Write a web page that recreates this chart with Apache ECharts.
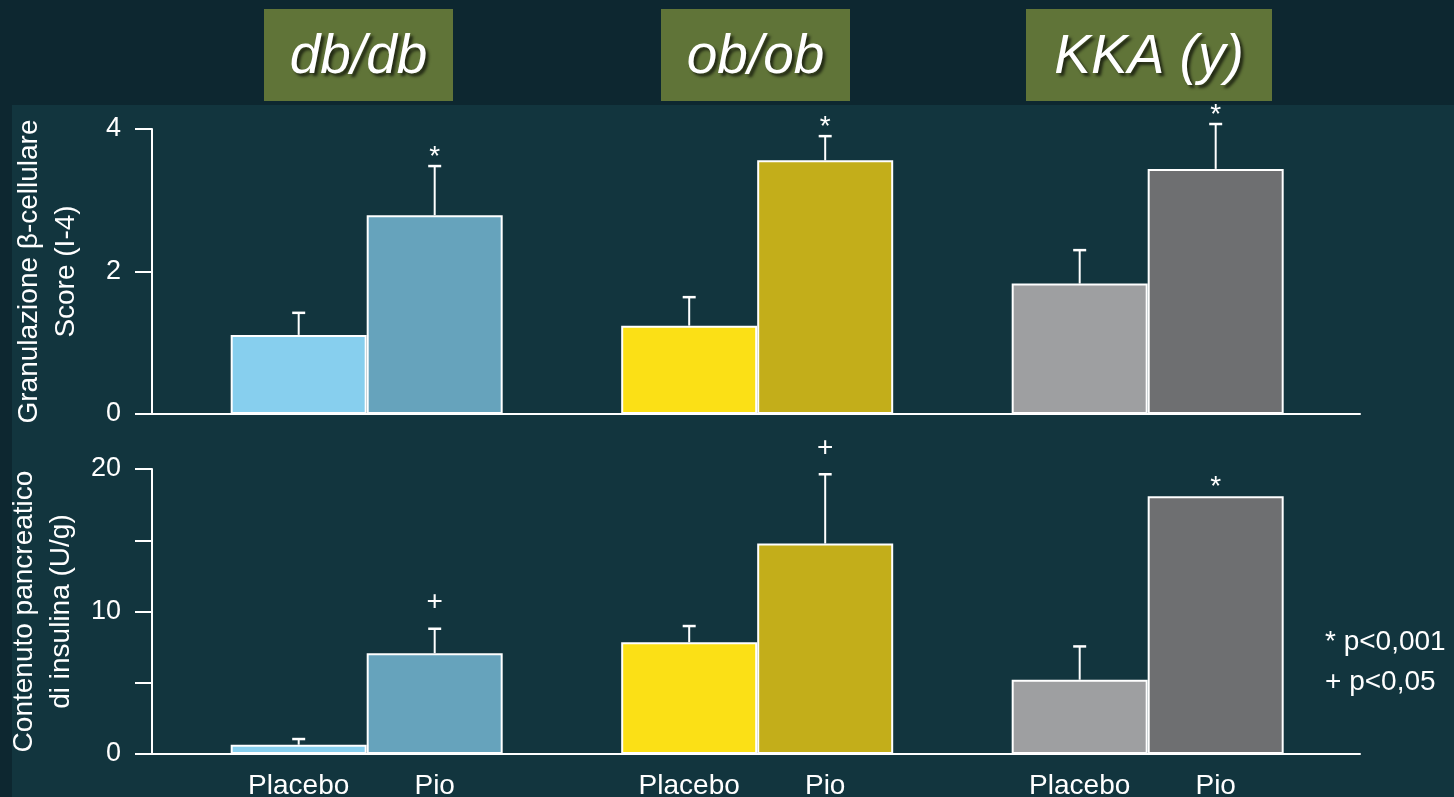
<!DOCTYPE html>
<html>
<head>
<meta charset="utf-8">
<style>
  html, body { margin: 0; padding: 0; background: #0d2730; }
  #chart { width: 1454px; height: 797px; }
</style>
<script src="https://cdn.jsdelivr.net/npm/echarts@6/dist/echarts.min.js"></script>
</head>
<body>
<div id="chart"></div>
<script>
// ---- data ----
const groups = ['db/db', 'ob/ob', 'KKA (y)'];
const treatments = ['Placebo', 'Pio'];

// Granulazione β-cellulare, score (I-4)
const granPlacebo    = [1.11, 1.24, 1.83];
const granPlaceboErr = [0.31, 0.40, 0.47];
const granPio        = [2.79, 3.56, 3.44];
const granPioErr     = [0.69, 0.34, 0.63];
const granPioSig     = ['*', '*', '*'];

// Contenuto pancreatico di insulina (U/g)
const insPlacebo    = [0.65, 7.84, 5.21];
const insPlaceboErr = [0.40, 1.14, 2.34];
const insPio        = [7.07, 14.77, 18.08];
const insPioErr     = [1.72, 4.86, 0];
const insPioSig     = ['+', '+', '*'];

const footnotes = ['* p<0,001', '+ p<0,05'];

// ---- styles ----
const placeboColors = ['#87cfee', '#fbe016', '#9e9fa1'];
const pioColors     = ['#66a3bc', '#c3ae1a', '#6e6f71'];
const FONT = '"Liberation Sans", Arial, Helvetica, sans-serif';
const WHITE = '#ffffff';
const BAR_W = 136;          // px, each bar
const CAP_HALF = 6.5;       // px, half width of error-bar cap

// group title boxes (pixel layout of the header band)
const titleBoxes = [
  { x: 264, w: 189 },
  { x: 661, w: 189 },
  { x: 1026, w: 246 }
];

const chart = echarts.init(document.getElementById('chart'), null, { renderer: 'canvas' });

function barData(values, colors) {
  return values.map((v, i) => ({ value: [i, v], itemStyle: { color: colors[i] } }));
}

function errData(values, errs) {
  return values.map((v, i) => [i, v, errs[i]]);
}

// error bar (upward only) + significance mark, drawn relative to the bar column
function errorRenderer(offsetPx, sigs) {
  return function (params, api) {
    const i = params.dataIndex;
    const gx = api.value(0), v = api.value(1), e = api.value(2);
    const base = api.coord([gx, v]);
    const top = api.coord([gx, v + e]);
    const px = base[0] + offsetPx;
    const children = [];
    if (e > 0) {
      children.push({
        type: 'line',
        shape: { x1: px, y1: base[1], x2: px, y2: top[1] },
        style: { stroke: WHITE, lineWidth: 2 }
      });
      children.push({
        type: 'line',
        shape: { x1: px - CAP_HALF, y1: top[1], x2: px + CAP_HALF, y2: top[1] },
        style: { stroke: WHITE, lineWidth: 2.5 }
      });
    }
    const s = sigs ? sigs[i] : '';
    if (s) {
      const lift = s === '*' ? 9 : 26;
      children.push({
        type: 'text',
        style: {
          x: px, y: top[1] - lift, text: s,
          fill: WHITE, font: '28px ' + FONT,
          align: 'center', verticalAlign: 'middle'
        }
      });
    }
    return { type: 'group', children: children };
  };
}

// hidden positional axis: group centres at 0, 1, 2
const X_MIN = -0.5498, X_MAX = 2.5437;

function xAxisFor(gridIndex) {
  return {
    type: 'value', gridIndex: gridIndex, min: X_MIN, max: X_MAX,
    axisLine: { show: true, onZero: false, lineStyle: { color: WHITE, width: 2 } },
    axisTick: { show: false }, axisLabel: { show: false }, splitLine: { show: false }
  };
}

function yAxisFor(gridIndex, max, interval, name, labelFn) {
  return {
    type: 'value', gridIndex: gridIndex, min: 0, max: max, interval: interval,
    name: name, nameLocation: 'middle', nameGap: 67, nameRotate: 90,
    nameTextStyle: { color: WHITE, fontFamily: FONT, fontSize: 28, lineHeight: 37 },
    axisLine: { show: true, onZero: false, lineStyle: { color: WHITE, width: 2 } },
    axisTick: { show: true, inside: false, length: 17, lineStyle: { color: WHITE, width: 2 } },
    axisLabel: { color: WHITE, fontFamily: FONT, fontSize: 27, margin: 31, formatter: labelFn },
    splitLine: { show: false }
  };
}

const barBase = {
  type: 'bar', barWidth: BAR_W, barGap: '0%',
  itemStyle: { borderColor: WHITE, borderWidth: 2 },
  emphasis: { disabled: true }, animation: false
};

const graphics = [
  // main panel background
  { type: 'rect', left: 12, top: 105, shape: { width: 1442, height: 692 }, style: { fill: '#12353e' }, z: -10, silent: true }
];
titleBoxes.forEach((b, i) => {
  graphics.push({
    type: 'rect', shape: { x: b.x, y: 9, width: b.w, height: 92 },
    style: { fill: '#607438' }, z: -5, silent: true
  });
  graphics.push({
    type: 'text', z: -4, silent: true,
    style: {
      x: b.x + b.w / 2, y: 58, text: groups[i],
      fill: WHITE, font: 'italic 55px ' + FONT,
      align: 'center', verticalAlign: 'middle',
      textShadowColor: 'rgba(0,0,0,0.65)', textShadowBlur: 3,
      textShadowOffsetX: 3, textShadowOffsetY: 3
    }
  });
});
footnotes.forEach((t, i) => {
  graphics.push({
    type: 'text', silent: true,
    style: {
      x: 1325, y: 642 + i * 40, text: t,
      fill: WHITE, font: '28px ' + FONT, align: 'left', verticalAlign: 'middle'
    }
  });
});

const option = {
  backgroundColor: '#0d2730',
  animation: false,
  textStyle: { fontFamily: FONT },
  grid: [
    { left: 152, right: 94, top: 129, height: 285, outerBoundsMode: 'none', containLabel: false },
    { left: 152, right: 94, top: 469, height: 285, outerBoundsMode: 'none', containLabel: false }
  ],
  xAxis: [xAxisFor(0), xAxisFor(1)],
  yAxis: [
    yAxisFor(0, 4, 2, 'Granulazione β-cellulare\nScore (I-4)', v => String(v)),
    yAxisFor(1, 20, 5, 'Contenuto pancreatico\ndi insulina (U/g)', v => (v % 10 === 0 ? String(v) : ''))
  ],
  graphic: graphics,
  series: [
    Object.assign({}, barBase, {
      name: treatments[0], xAxisIndex: 0, yAxisIndex: 0,
      data: barData(granPlacebo, placeboColors)
    }),
    Object.assign({}, barBase, {
      name: treatments[1], xAxisIndex: 0, yAxisIndex: 0,
      data: barData(granPio, pioColors)
    }),
    Object.assign({}, barBase, {
      name: treatments[0], xAxisIndex: 1, yAxisIndex: 1,
      data: barData(insPlacebo, placeboColors),
      label: {
        show: true, position: 'bottom', distance: 18, formatter: p => p.seriesName,
        color: WHITE, fontFamily: FONT, fontSize: 28
      }
    }),
    Object.assign({}, barBase, {
      name: treatments[1], xAxisIndex: 1, yAxisIndex: 1,
      data: barData(insPio, pioColors),
      label: {
        show: true, position: 'bottom', distance: 18, formatter: p => p.seriesName,
        color: WHITE, fontFamily: FONT, fontSize: 28
      }
    }),
    {
      type: 'custom', xAxisIndex: 0, yAxisIndex: 0, z: 5, clip: false, silent: true,
      renderItem: errorRenderer(-BAR_W / 2, null), data: errData(granPlacebo, granPlaceboErr)
    },
    {
      type: 'custom', xAxisIndex: 0, yAxisIndex: 0, z: 5, clip: false, silent: true,
      renderItem: errorRenderer(BAR_W / 2, granPioSig), data: errData(granPio, granPioErr)
    },
    {
      type: 'custom', xAxisIndex: 1, yAxisIndex: 1, z: 5, clip: false, silent: true,
      renderItem: errorRenderer(-BAR_W / 2, null), data: errData(insPlacebo, insPlaceboErr)
    },
    {
      type: 'custom', xAxisIndex: 1, yAxisIndex: 1, z: 5, clip: false, silent: true,
      renderItem: errorRenderer(BAR_W / 2, insPioSig), data: errData(insPio, insPioErr)
    }
  ]
};

chart.setOption(option);
</script>
</body>
</html>
